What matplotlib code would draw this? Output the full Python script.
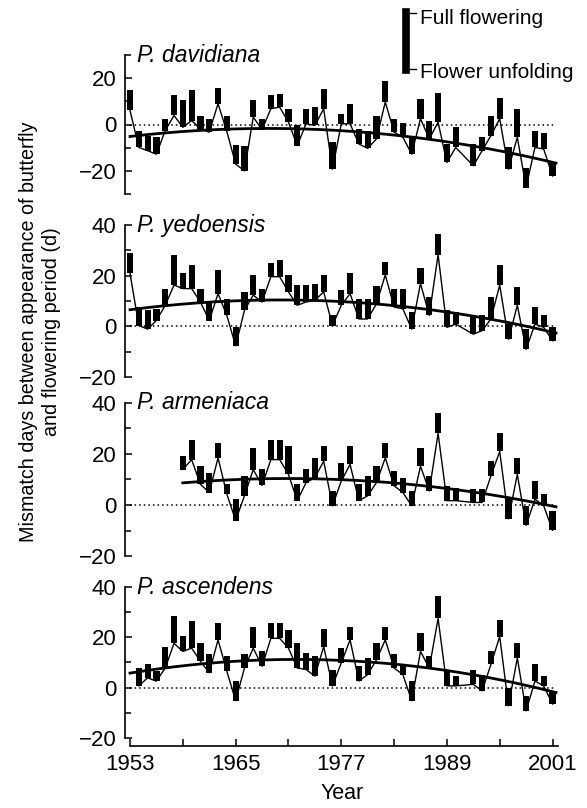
import numpy as np
import matplotlib.pyplot as plt
from matplotlib.lines import Line2D
from matplotlib.ticker import FixedLocator

plt.rcParams['font.family'] = ['Liberation Sans', 'DejaVu Sans']

nan = np.nan
years = np.arange(1953, 2002)

# (full flowering = top of bar, flower unfolding = bottom of bar), days
dav_top = [14.8, -2.6, -4.8, -5.5, 2.5, 12.9, 10.4, 14.8, 3.6, 2.5, 15.8, 3.6, -8.8, -9.4,
           10.4, 2.2, 12.6, 13.3, 6.8, -0.4, 6.8, 7.5, 15.5, -7.7, 4.6, 9.0, -1.9, -2.6,
           3.6, 18.7, 2.5, 0.7, -4.8, 10.9, 1.3, 13.8, -8.4, -1.2, nan, -8.4, -5.5, 3.6,
           11.4, -9.9, 6.8, -18.6, -2.6, -3.6, -16.4]
dav_bot = [6.1, -9.9, -11.3, -12.8, -2.6, 3.9, -1.2, 1.7, -1.9, -3.3, 9.0, -3.0, -17.1, -20.0,
           3.2, -2.2, 6.8, 7.5, 1.0, -9.1, 0.3, -0.4, 6.8, -19.3, 0.3, 0.3, -8.4, -10.3,
           -6.2, 9.7, -3.3, -5.5, -12.8, 2.5, -6.2, 1.0, -16.4, -9.9, nan, -17.8, -11.3, -4.8,
           2.5, -19.3, -5.5, -27.2, -9.9, -10.6, -22.2]

yed_top = [28.9, 7.6, 6.3, 6.9, 14.9, 28.3, 21.2, 24.3, 14.9, 9.6, 22.3, 10.9, -0.4, 13.6,
           20.3, 14.9, 24.9, 26.3, 20.3, 16.3, 16.3, 16.9, 20.3, 4.3, 14.3, 20.9, 10.9, 10.9,
           15.9, 25.2, 14.9, 14.9, 5.6, 22.9, 11.6, 36.3, 6.3, 5.6, nan, 4.3, 4.3, 11.6,
           24.3, 0.9, 15.6, -1.1, 7.6, 4.3, -0.4]
yed_bot = [20.9, 0.3, -1.1, 2.3, 8.3, 16.3, 14.9, 14.9, 9.6, 2.3, 12.9, 4.3, -7.7, 6.3,
           12.3, 9.6, 19.6, 19.6, 13.6, 8.3, 9.6, 10.3, 13.6, 0.3, 8.3, 12.9, 2.9, 2.9,
           8.9, 20.3, 7.6, 6.9, -1.1, 16.9, 4.3, 28.3, -0.4, 0.9, nan, -3.1, -1.7, 2.9,
           16.3, -5.1, 8.3, -9.1, 0.9, -0.4, -5.7]

arm_top = [nan] * 6 + [19.4, 25.3, 15.2, 12.6, 24.3, 8.1, 2.3, 11.4, 22.3, 14.2, 25.3, 25.3,
           23.2, 8.1, 14.2, 18.5, 23.2, 5.5, 16.5, 23.2, 8.1, 11.4, 15.2, 24.3, 13.3, 10.7,
           5.5, 22.3, 11.4, 35.9, 7.5, 6.8, nan, 6.2, 6.2, 17.2, 28.1, 3.0, 18.5, -0.3,
           9.4, 4.3, -2.2]
arm_bot = [nan] * 6 + [13.9, 17.8, 8.1, 4.9, 18.5, 4.3, -6.1, 3.6, 13.9, 7.7, 17.8, 17.8,
           12.0, 1.7, 8.8, 10.7, 17.2, -0.3, 9.4, 15.9, 1.7, 3.6, 8.8, 18.5, 7.5, 4.9,
           -0.3, 15.2, 5.5, 28.1, 1.7, 1.7, nan, 1.0, 1.0, 11.4, 21.0, -5.4, 12.0, -8.0,
           2.3, -0.3, -9.9]

asc_top = [nan, 7.8, 9.4, 6.5, 16.3, 28.5, 20.7, 26.4, 17.6, 13.3, 25.5, 12.4, 2.6, 13.3,
           24.2, 14.4, 25.5, 25.5, 22.9, 17.6, 13.7, 12.4, 23.5, 7.2, 15.7, 24.2, 8.5, 11.8,
           17.6, 24.2, 13.3, 9.4, 2.6, 21.6, 12.4, 36.6, 7.2, 4.6, nan, 7.2, 5.2, 14.4,
           26.8, 0.0, 17.6, -3.3, 9.2, 4.6, -1.3]
asc_bot = [nan, 0.7, 3.9, 2.6, 7.8, 17.6, 14.4, 15.7, 10.5, 5.9, 19.0, 6.5, -5.2, 7.8,
           15.7, 8.5, 19.6, 19.6, 15.7, 7.8, 7.2, 4.6, 16.3, 0.7, 9.8, 19.0, 2.6, 5.2,
           11.1, 19.0, 7.8, 5.2, -5.2, 14.4, 7.8, 27.5, 0.7, 0.7, nan, 1.3, -1.3, 9.2,
           20.3, -7.2, 11.8, -9.2, 2.6, 0.7, -6.5]

species = ['P. davidiana', 'P. yedoensis', 'P. armeniaca', 'P. ascendens']
tops = [dav_top, yed_top, arm_top, asc_top]
bots = [dav_bot, yed_bot, arm_bot, asc_bot]
trend_start = [1953, 1953, 1959, 1953]
ylims = [(-30, 30), (-20, 40), (-20, 40), (-23, 40)]
yspans = [(-30, 30), (-20, 40), (-20, 40), (-20, 40)]
year_ticks = [1953, 1965, 1977, 1989, 2001]

W, H = 587, 808
fig = plt.figure(figsize=(W / 100, H / 100), dpi=100)

# panel boxes in pixels: (top, bottom)
boxes = [(55, 194), (225, 377), (403, 556), (587, 745.5)]
x0, x1 = 125, 560

for k, (name, top, bot) in enumerate(zip(species, tops, bots)):
    pt, pb = boxes[k]
    ax = fig.add_axes([x0 / W, 1 - pb / H, (x1 - x0) / W, (pb - pt) / H])
    top = np.array(top, dtype=float)
    bot = np.array(bot, dtype=float)
    ok = ~np.isnan(top)

    ax.hlines(0, 1953, 2001.3, color='black', lw=1.1, ls=(0, (1, 2)), zorder=1)
    ax.plot(years[ok], bot[ok], color='black', lw=1.0, zorder=2)
    ax.bar(years[ok], (top - bot)[ok], bottom=bot[ok], width=0.7,
           color='black', zorder=3)

    # quadratic trend of the flower-unfolding mismatch
    coef = np.polyfit(years[ok], bot[ok], 2)
    xs = np.linspace(trend_start[k], 2001.4, 200)
    ax.plot(xs, np.polyval(coef, xs), color='black', lw=2.0, zorder=4)

    ax.set_xlim(1952.43, 2001.85)
    ax.set_ylim(*ylims[k])
    for s in ['top', 'right']:
        ax.spines[s].set_visible(False)
    ax.spines['left'].set_bounds(*yspans[k])
    ax.spines['left'].set_linewidth(1.2)
    ax.yaxis.set_major_locator(FixedLocator([v for v in (-20, 0, 20, 40) if yspans[k][0] <= v <= yspans[k][1]]))
    ax.yaxis.set_minor_locator(FixedLocator([v for v in range(-30, 41, 10) if yspans[k][0] <= v <= yspans[k][1]]))
    ax.tick_params(axis='y', which='both', direction='in', labelsize=16, pad=6)
    ax.tick_params(axis='y', which='major', length=5, width=1.1)
    ax.tick_params(axis='y', which='minor', length=4, width=1.1)
    ax.set_yticklabels(['\u221220' if v == -20 else str(v) for v in ax.get_yticks()])
    ax.text(0.028, 1.0, name, transform=ax.transAxes, style='italic',
            fontsize=16.5, va='center', ha='left')

    if k < 3:
        ax.spines['bottom'].set_visible(False)
        ax.set_xticks([])
    else:
        ax.spines['bottom'].set_bounds(1953, 2001.6)
        ax.spines['bottom'].set_linewidth(1.2)
        ax.set_xticks(year_ticks)
        ax.xaxis.set_minor_locator(FixedLocator([1959, 1971, 1983, 1995]))
        ax.tick_params(axis='x', which='both', direction='in', length=5, width=1.1,
                       labelsize=16, pad=6)
        ax.set_xlabel('Year', fontsize=15.5, labelpad=6)

fig.text(40 / W, 1 - 332 / H,
         'Mismatch days between appearance of butterfly\nand flowering period (d)',
         rotation=90, ha='center', va='center', multialignment='center',
         fontsize=14.2, linespacing=1.3)

# legend glyph
lx = 406 / W
fig.add_artist(Line2D([lx, lx], [1 - 12 / H, 1 - 70 / H], color='black', lw=5.5))
fig.add_artist(Line2D([lx, lx + 10 / W], [1 - 13 / H, 1 - 13 / H], color='black', lw=1))
fig.add_artist(Line2D([lx, lx + 10 / W], [1 - 69 / H, 1 - 69 / H], color='black', lw=1))
fig.text(420 / W, 1 - 18 / H, 'Full flowering', fontsize=15, va='center', ha='left')
fig.text(420 / W, 1 - 72 / H, 'Flower unfolding', fontsize=15, va='center', ha='left')

fig.savefig('out.png', dpi=100)
